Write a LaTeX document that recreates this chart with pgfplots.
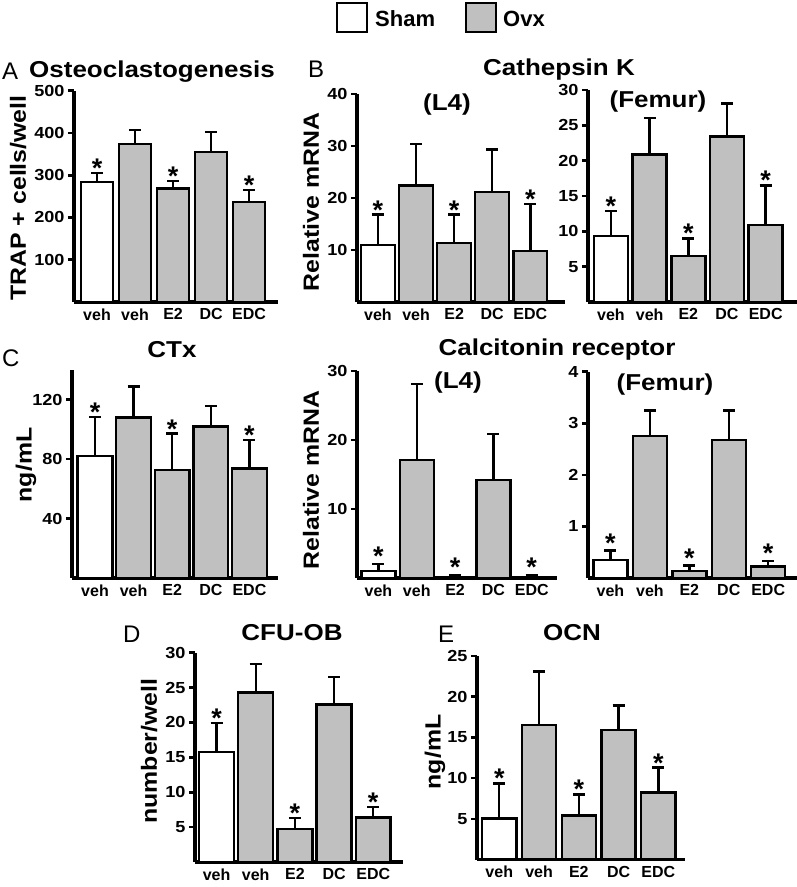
\documentclass[border=0pt]{standalone}
\usepackage{fontspec}
\setmainfont{Liberation Sans}
\newfontfamily\wfont{Liberation Sans}[FakeStretch=1.13]
\usepackage{pgfplots}
\pgfplotsset{compat=1.18}
\definecolor{ovxgray}{RGB}{192,192,192}
\newcommand{\fs}[1]{\fontsize{#1}{#1}\selectfont}

\pgfplotsset{
  panel/.style={
    scale only axis, clip=false,
    axis x line*=bottom, axis y line*=left,
    axis line style={line width=3.2pt, -},
    ymin=0,
    xtick={0,1,2,3,4}, xticklabels={veh,veh,E2,DC,EDC},
    major x tick style={draw=none},
    major y tick style={line width=2.6pt, black},
    tick align=outside, major tick length=6pt,
    /pgf/number format/assume math mode=true,
    yticklabel style={font=\wfont\bfseries\fs{16}},
    xticklabel style={font=\bfseries\fs{16}, yshift=3pt},
    anchor=south west,
  },
  barbase/.style={ybar, bar shift=0pt, draw=black, line width=2.4pt,
    error bars/y dir=plus, error bars/y explicit,
    error bars/error bar style={line width=2.4pt, black},
    error bars/error mark options={rotate=90, mark size=6pt, line width=2.4pt, black}},
  sham/.style={barbase, fill=white},
  ovx/.style={barbase, fill=ovxgray},
  stars/.style={draw=none, mark=none, nodes near coords={*},
    every node near coord/.style={anchor=base, font=\bfseries\fs{27}, inner sep=0pt, yshift=#1}},
  stars/.default=-4.5pt,
}

\begin{document}
\begin{tikzpicture}
\useasboundingbox (0pt,0pt) rectangle (797pt,887pt);

% legend
\draw[line width=2.3pt, fill=white] (337pt,855pt) rectangle (367pt,884pt);
\node[anchor=base west, font=\bfseries\fs{22}, inner sep=0pt] at (375pt,860pt) {Sham};
\draw[line width=2.3pt, fill=ovxgray] (466pt,855pt) rectangle (496pt,884pt);
\node[anchor=base west, font=\bfseries\fs{22}, inner sep=0pt] at (503pt,860pt) {Ovx};

% titles and panel letters
\begin{scope}[every node/.style={inner sep=0pt}]
\node[anchor=base west, font=\fs{24}] at (2pt,807pt) {A};
\node[anchor=base west, font=\wfont\bfseries\fs{23}] at (29pt,809.5pt) {Osteoclastogenesis};
\node[anchor=base west, font=\fs{24}] at (308pt,809pt) {B};
\node[anchor=base west, font=\wfont\bfseries\fs{23}] at (483pt,811pt) {Cathepsin K};
\node[font=\wfont\bfseries\fs{23}] at (447pt,782pt) {(L4)};
\node[font=\wfont\bfseries\fs{23}] at (658pt,785pt) {(Femur)};
\node[anchor=base west, font=\fs{24}] at (2pt,520pt) {C};
\node[font=\wfont\bfseries\fs{23}] at (172pt,537pt) {CTx};
\node[font=\wfont\bfseries\fs{23}] at (557pt,537pt) {Calcitonin receptor};
\node[font=\wfont\bfseries\fs{23}] at (458pt,504pt) {(L4)};
\node[font=\wfont\bfseries\fs{23}] at (665pt,502pt) {(Femur)};
\node[anchor=base west, font=\fs{24}] at (123pt,244pt) {D};
\node[font=\wfont\bfseries\fs{23}] at (292pt,254pt) {CFU-OB};
\node[anchor=base west, font=\fs{24}] at (438pt,244pt) {E};
\node[font=\wfont\bfseries\fs{23}] at (572pt,254pt) {OCN};
% y labels
\node[rotate=90, font=\wfont\bfseries\fs{22}] at (18pt,689pt) {TRAP + cells/well};
\node[rotate=90, font=\wfont\bfseries\fs{22}] at (311pt,685pt) {Relative mRNA};
\node[rotate=90, font=\wfont\bfseries\fs{22}] at (26pt,422pt) {ng/mL};
\node[rotate=90, font=\wfont\bfseries\fs{22}] at (311pt,407pt) {Relative mRNA};
\node[rotate=90, font=\wfont\bfseries\fs{22}] at (149pt,136pt) {number/well};
\node[rotate=90, font=\wfont\bfseries\fs{22}] at (435pt,135pt) {ng/mL};
\end{scope}

% A Osteoclastogenesis
\begin{axis}[panel, at={(74pt,585pt)}, width=204pt, height=211.3pt,
  xmin=-0.605, xmax=4.76, ymax=500, ytick={100,200,300,400,500}, bar width=0.84]
\addplot[sham] coordinates {(0,284) +- (0,21)};
\addplot[ovx] coordinates {(1,374) +- (0,33) (2,269) +- (0,18) (3,355) +- (0,47) (4,236) +- (0,29)};
\addplot[stars] coordinates {(0,305) (2,287) (4,265)};
\end{axis}

% B Cathepsin K L4
\begin{axis}[panel, at={(357pt,585pt)}, width=208pt, height=208pt,
  xmin=-0.55, xmax=4.91, ymax=40, ytick={10,20,30,40}, bar width=0.89]
\addplot[sham] coordinates {(0,11.0) +- (0,5.8)};
\addplot[ovx] coordinates {(1,22.4) +- (0,8.0) (2,11.3) +- (0,5.5) (3,21.2) +- (0,8.1) (4,9.8) +- (0,9.0)};
\addplot[stars] coordinates {(0,16.8) (2,16.8) (4,18.8)};
\end{axis}

% B Cathepsin K Femur
\begin{axis}[panel, at={(588pt,585pt)}, width=209pt, height=212pt,
  xmin=-0.594, xmax=4.81, ymax=30, ytick={5,10,15,20,25,30}, bar width=0.88]
\addplot[sham] coordinates {(0,9.35) +- (0,3.5)};
\addplot[ovx] coordinates {(1,20.85) +- (0,5.15) (2,6.5) +- (0,2.5) (3,23.4) +- (0,4.7) (4,10.9) +- (0,5.6)};
\addplot[stars] coordinates {(0,12.85) (2,9.0) (4,16.5)};
\end{axis}

% C CTx
\begin{axis}[panel, at={(72pt,309pt)}, width=206pt, height=208pt,
  xmin=-0.596, xmax=4.74, ymax=140, ytick={40,80,120}, bar width=0.9]
\addplot[sham] coordinates {(0,82) +- (0,26.3)};
\addplot[ovx] coordinates {(1,108) +- (0,20.8) (2,72.5) +- (0,24.7) (3,102) +- (0,13.8) (4,73.6) +- (0,19.4)};
\addplot[stars] coordinates {(0,108.3) (2,97.2) (4,93.0)};
\end{axis}

% Calcitonin receptor L4
\begin{axis}[panel, at={(357pt,309pt)}, width=200pt, height=207pt,
  xmin=-0.56, xmax=4.66, ymax=30, ytick={10,20,30}, bar width=0.89]
\addplot[sham] coordinates {(0,1.0) +- (0,1.0)};
\addplot[ovx] coordinates {(1,17.1) +- (0,11.0) (2,0.15) +- (0,0.25) (3,14.2) +- (0,6.7) (4,0.1) +- (0,0.3)};
\addplot[stars=-1pt] coordinates {(0,2.0) (2,0.4) (4,0.4)};
\end{axis}

% Calcitonin receptor Femur
\begin{axis}[panel, at={(588pt,309pt)}, width=209pt, height=206.3pt,
  xmin=-0.57, xmax=4.73, ymax=4, ytick={1,2,3,4}, bar width=0.86]
\addplot[sham] coordinates {(0,0.35) +- (0,0.18)};
\addplot[ovx] coordinates {(1,2.75) +- (0,0.5) (2,0.13) +- (0,0.11) (3,2.68) +- (0,0.57) (4,0.22) +- (0,0.11)};
\addplot[stars=-2pt] coordinates {(0,0.53) (2,0.24) (4,0.33)};
\end{axis}

% D CFU-OB
\begin{axis}[panel, at={(195pt,25pt)}, width=208pt, height=209.3pt,
  xmin=-0.55, xmax=4.76, ymax=30, ytick={5,10,15,20,25,30}, bar width=0.89]
\addplot[sham] coordinates {(0,15.8) +- (0,4.1)};
\addplot[ovx] coordinates {(1,24.3) +- (0,4.1) (2,4.7) +- (0,1.6) (3,22.6) +- (0,3.9) (4,6.4) +- (0,1.5)};
\addplot[stars] coordinates {(0,19.9) (2,6.3) (4,7.9)};
\end{axis}

% E OCN
\begin{axis}[panel, at={(477pt,27.5pt)}, width=208pt, height=203.5pt,
  xmin=-0.56, xmax=4.67, ymax=25, ytick={5,10,15,20,25}, bar width=0.86]
\addplot[sham] coordinates {(0,5.06) +- (0,4.3)};
\addplot[ovx] coordinates {(1,16.5) +- (0,6.6) (2,5.4) +- (0,2.6) (3,15.9) +- (0,3.0) (4,8.25) +- (0,3.05)};
\addplot[stars] coordinates {(0,9.36) (2,8.0) (4,11.3)};
\end{axis}
\end{tikzpicture}
\end{document}
